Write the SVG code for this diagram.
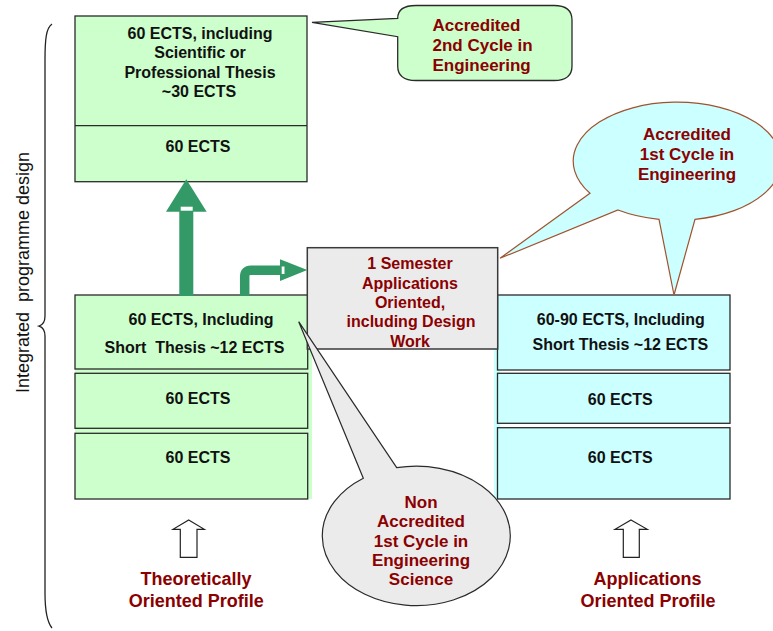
<svg xmlns="http://www.w3.org/2000/svg" width="773" height="631" viewBox="0 0 773 631">
  <style>
    .box { stroke: #2a2a2a; stroke-width: 1.3; }
    .green { fill: #ccffcc; }
    .cyan { fill: #ccffff; }
    .grey { fill: #ebebeb; }
    .t { font-family: "Liberation Sans", Arial, sans-serif; font-weight: bold; font-size: 16px; fill: #111; text-anchor: middle; }
    .r { font-family: "Liberation Sans", Arial, sans-serif; font-weight: bold; font-size: 17px; fill: #8b0000; text-anchor: middle; }
    .lbl { font-size: 18px; }
    .flow { fill: #339966; }
    .hollow { fill: #fff; stroke: #222; stroke-width: 1.2; stroke-linejoin: miter; }
  </style>

  <rect width="773" height="631" fill="#fff"/>

  <!-- side brace and caption -->
  <g id="brace">
    <path d="M 52 24 C 46 28 45 40 45 60 L 45 316 C 45 322 42.5 325 39 326 C 42.5 327 45 330 45 336 L 45 593 C 45 612 47 622 52 628" fill="none" stroke="#222" stroke-width="1.3"/>
    <text transform="translate(29,272.5) rotate(-90)" font-family="Liberation Sans, Arial, sans-serif" font-size="17.5" fill="#111" text-anchor="middle" textLength="241" lengthAdjust="spacingAndGlyphs" xml:space="preserve">Integrated  programme design</text>
  </g>

  <!-- second cycle block -->
  <g id="second-cycle">
    <rect class="box green" x="75" y="16" width="232" height="165.7"/>
    <line class="box" x1="75" y1="125.7" x2="307" y2="125.7"/>
    <text class="t" x="200" y="39">60 ECTS, including</text>
    <text class="t" x="200" y="58">Scientific or</text>
    <text class="t" x="200" y="77.5">Professional Thesis</text>
    <text class="t" x="199" y="97">~30 ECTS</text>
    <text class="t" x="198" y="151.7">60 ECTS</text>
  </g>

  <!-- callout: accredited 2nd cycle -->
  <g id="callout-2nd">
    <path class="box green" d="M 397.7 36.7 V 66 Q 397.7 80.5 416 80.5 H 554 Q 572 80.5 572 66 V 20 Q 572 5.5 554 5.5 H 416 Q 397.7 5.5 397.7 18.3 L 312 22.3 Z"/>
    <text class="r" text-anchor="start" style="text-anchor:start" x="432.5" y="30.7">Accredited</text>
    <text class="r" style="text-anchor:start" x="432.5" y="50.7">2nd Cycle in</text>
    <text class="r" style="text-anchor:start" x="432.5" y="70.7">Engineering</text>
  </g>

  <!-- theoretically oriented stack -->
  <g id="theoretical-stack">
    <rect class="green" x="75" y="295" width="237" height="204"/>
    <rect class="box green" x="75" y="295" width="232.7" height="74"/>
    <rect class="box green" x="75" y="373.3" width="232.7" height="55"/>
    <rect class="box green" x="75" y="433.3" width="232.7" height="65.7"/>
    <text class="t" x="201" y="325">60 ECTS, Including</text>
    <text class="t" x="194.5" y="352.7" xml:space="preserve">Short  Thesis ~12 ECTS</text>
    <text class="t" x="198" y="404">60 ECTS</text>
    <text class="t" x="198" y="462.7">60 ECTS</text>
  </g>

  <!-- applications oriented stack -->
  <g id="applications-stack">
    <rect class="cyan" x="494" y="295" width="6" height="204"/>
    <rect class="box cyan" x="497.5" y="295" width="232.5" height="75"/>
    <rect class="box cyan" x="497.5" y="373.3" width="232.5" height="50"/>
    <rect class="box cyan" x="497.5" y="427.7" width="232.5" height="71.3"/>
    <text class="t" x="620.8" y="325">60-90 ECTS, Including</text>
    <text class="t" x="620.3" y="350">Short Thesis ~12 ECTS</text>
    <text class="t" x="620.3" y="405">60 ECTS</text>
    <text class="t" x="620.3" y="462.7">60 ECTS</text>
  </g>

  <!-- bridging semester -->
  <g id="semester">
    <rect class="grey" x="307.3" y="247.7" width="190.4" height="101.3" stroke="#3a3a3a" stroke-width="1.5"/>
    <text class="r" style="font-size:16px" x="410" y="269.3">1 Semester</text>
    <text class="r" style="font-size:16px" x="410" y="289">Applications</text>
    <text class="r" style="font-size:16px" x="410" y="308.3">Oriented,</text>
    <text class="r" style="font-size:16px" x="411" y="327.3">including Design</text>
    <text class="r" style="font-size:16px" x="410" y="346.7">Work</text>
  </g>

  <!-- callout: accredited 1st cycle -->
  <g id="callout-1st">
    <path class="cyan" stroke="#a0522d" stroke-width="1.2" d="M 590 193.3 L 500 258.3 L 618 210 A 104 59 0 0 0 659 219.3 L 674 295 L 695 219.3 A 104 59 0 1 0 590 193.3 Z"/>
    <text class="r" x="687" y="140">Accredited</text>
    <text class="r" x="687" y="160">1st Cycle in</text>
    <text class="r" x="687" y="180">Engineering</text>
  </g>

  <!-- callout: non accredited -->
  <g id="callout-non">
    <path class="grey" stroke="#2a2a2a" stroke-width="1.2" d="M 396.7 467.7 L 298.7 321.7 L 363.3 478.3 A 94 69.7 0 1 0 396.7 467.7 Z"/>
    <text class="r" x="421" y="507.7">Non</text>
    <text class="r" x="421" y="527.2">Accredited</text>
    <text class="r" x="421" y="546.7">1st Cycle in</text>
    <text class="r" x="421" y="565.7">Engineering</text>
    <text class="r" x="421" y="585">Science</text>
  </g>

  <!-- profile entry points -->
  <g id="profile-theoretical">
    <polygon class="hollow" points="188.7,520 204.3,529.3 197,529.3 197,557.3 180.3,557.3 180.3,529.3 173,529.3"/>
    <text class="r lbl" x="196" y="585">Theoretically</text>
    <text class="r lbl" x="196.3" y="606.7">Oriented Profile</text>
  </g>
  <g id="profile-applications">
    <polygon class="hollow" points="631,520 647.3,529.3 639.3,529.3 639.3,557.3 623.3,557.3 623.3,529.3 615,529.3"/>
    <text class="r lbl" x="647.5" y="584.5">Applications</text>
    <text class="r lbl" x="648" y="606.7">Oriented Profile</text>
  </g>

  <!-- progression arrows -->
  <g id="connectors">
    <rect class="flow" x="179.3" y="210" width="14" height="86"/>
    <polygon class="flow" points="166,211.7 186.3,179.3 206.7,211.7"/>
    <rect x="180.7" y="206.7" width="12" height="4" fill="#fff"/>
    <path d="M 244.7 296 V 276.5 Q 244.7 270.3 251 270.3 H 282" fill="none" stroke="#339966" stroke-width="9.5"/>
    <polygon class="flow" points="280,259.3 307.3,270 280,281"/>
    <rect x="281.7" y="266.5" width="2.8" height="7.5" fill="#fff"/>
  </g>
</svg>
